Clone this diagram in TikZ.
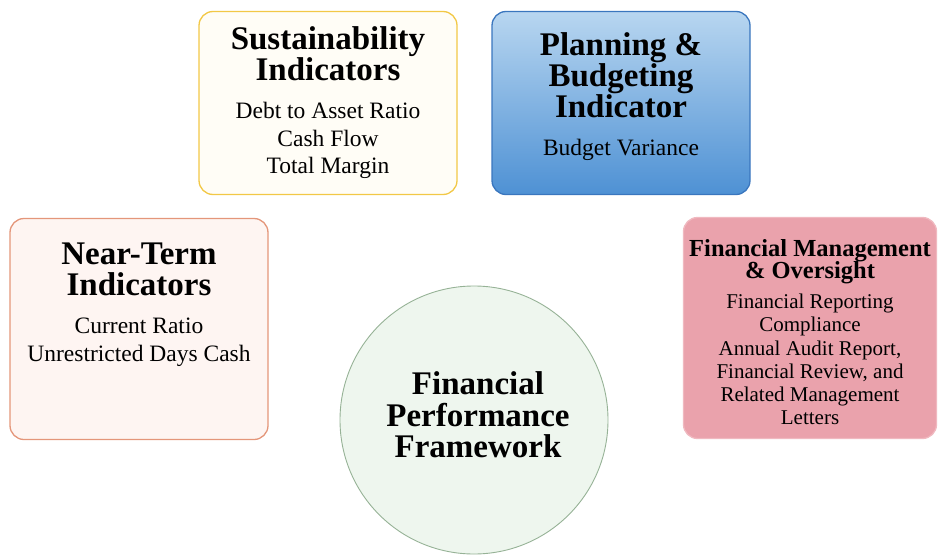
\documentclass[tikz,border=0pt]{standalone}
\usepackage{fontspec}
\setmainfont{Liberation Serif}
\usepackage{tikz}
\usetikzlibrary{shapes.geometric, positioning}
\definecolor{sustborder}{RGB}{242, 200, 70}
\definecolor{sustfill}{RGB}{255, 253, 246}
\definecolor{planborder}{RGB}{58, 118, 190}
\definecolor{plantop}{RGB}{184, 214, 240}
\definecolor{planbottom}{RGB}{78, 145, 212}
\definecolor{nearborder}{RGB}{228, 150, 122}
\definecolor{nearfill}{RGB}{254, 245, 242}
\definecolor{mgmtborder}{RGB}{240, 185, 192}
\definecolor{mgmtfill}{RGB}{234, 162, 172}
\definecolor{coreborder}{RGB}{150, 178, 150}
\definecolor{corefill}{RGB}{238, 246, 238}

\begin{document}
\begin{tikzpicture}[
    x=1pt, y=-1pt,
    panel/.style={rectangle, rounded corners=14pt, line width=1.3pt, minimum width=258pt, inner sep=0pt},
    head/.style={align=center, font=\bfseries\fontsize{33}{31}\selectfont, inner sep=0pt},
    items/.style={align=center, font=\fontsize{23.5}{27.5}\selectfont, inner sep=0pt},
    smallhead/.style={align=center, font=\bfseries\fontsize{24.5}{22.5}\selectfont, inner sep=0pt},
    smallitems/.style={align=center, font=\fontsize{21}{23.2}\selectfont, inner sep=0pt}
]
    \useasboundingbox (0,0) rectangle (939,554);

    % Top row
    \node[panel, draw=sustborder, fill=sustfill, minimum height=183pt] (sust) at (328, 103) {};
    \node[head, anchor=north] (susthead) at (328, 26) {Sustainability\\Indicators};
    \node[items, anchor=north] (sustitems) at (328, 102) {Debt to Asset Ratio\\Cash Flow\\Total Margin};

    \node[panel, draw=planborder, top color=plantop, bottom color=planbottom, minimum height=183pt] (plan) at (621, 103) {};
    \node[head, anchor=north] (planhead) at (621, 32) {Planning \&\\Budgeting\\Indicator};
    \node[items, anchor=north] (planitems) at (621, 139) {Budget Variance};

    % Middle row
    \node[panel, draw=nearborder, fill=nearfill, minimum height=221pt] (near) at (139, 329) {};
    \node[head, anchor=north] (nearhead) at (139, 243) {Near-Term\\Indicators};
    \node[items, anchor=north] (nearitems) at (139, 318) {Current Ratio\\Unrestricted Days Cash};

    \node[panel, draw=mgmtborder, fill=mgmtfill, minimum width=253pt, minimum height=221pt] (mgmt) at (810, 328) {};
    \node[smallhead, anchor=north] (mgmthead) at (810, 239) {Financial Management\\\& Oversight};
    \node[smallitems, anchor=north] (mgmtitems) at (810, 294) {Financial Reporting\\Compliance\\Annual Audit Report,\\Financial Review, and\\Related Management\\Letters};

    % Centre
    \node[circle, draw=coreborder, fill=corefill, line width=0.9pt, minimum size=268pt, inner sep=0pt] (core) at (474, 420) {};
    \node[head, font=\bfseries\fontsize{33}{31.5}\selectfont] (corehead) at (478, 415) {Financial\\Performance\\Framework};

\end{tikzpicture}
\end{document}
